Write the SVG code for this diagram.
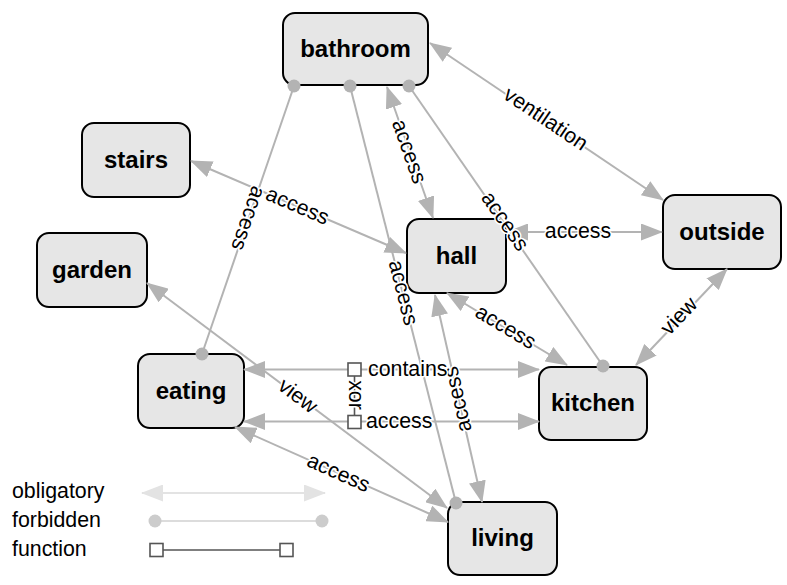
<svg xmlns="http://www.w3.org/2000/svg" width="787" height="585" viewBox="0 0 787 585">
  <style>
    .node rect { fill: #e6e6e6; stroke: #000; stroke-width: 2; }
    .node text { font-family: "Liberation Sans", Arial, sans-serif; font-weight: 700; font-size: 24px; text-anchor: middle; fill: #000; }
    .edge { stroke: #b3b3b3; stroke-width: 2; fill: none; }
    .arr { marker-start: url(#arrow); marker-end: url(#arrow); }
    .dot { fill: #b3b3b3; }
    .lbl { font-family: "Liberation Sans", Arial, sans-serif; font-size: 21.33px; fill: #000; text-anchor: middle; stroke: #fff; stroke-width: 3; stroke-linejoin: round; paint-order: stroke; }
    .lbl-left { text-anchor: start; }
    .fn { fill: #fff; stroke: #555; stroke-width: 1.6; }
    .fnline { stroke: #555; stroke-width: 1.6; }
    .legend { font-family: "Liberation Sans", Arial, sans-serif; font-size: 21.33px; fill: #000; }
  </style>
  <defs>
    <marker id="arrow" markerUnits="userSpaceOnUse" viewBox="0 0 22 17" markerWidth="22" markerHeight="17" refX="21" refY="8.5" orient="auto-start-reverse">
      <path d="M0,0 L22,8.5 L0,17 z" fill="#b3b3b3"/>
    </marker>
    <marker id="arrowLight" markerUnits="userSpaceOnUse" viewBox="0 0 22 17" markerWidth="22" markerHeight="17" refX="21" refY="8.5" orient="auto-start-reverse">
      <path d="M0,0 L22,8.5 L0,17 z" fill="#e3e3e3"/>
    </marker>
  </defs>
  <rect width="787" height="585" fill="#fff"/>

  <!-- rooms -->
  <g id="bathroom" class="node"><rect x="283" y="13" width="145" height="72" rx="12"/><text x="355.5" y="56.5">bathroom</text></g>
  <g id="stairs" class="node"><rect x="82" y="123" width="108" height="74" rx="12"/><text x="136" y="167.5">stairs</text></g>
  <g id="garden" class="node"><rect x="37" y="233" width="110" height="74" rx="12"/><text x="92" y="277.5">garden</text></g>
  <g id="eating" class="node"><rect x="138" y="354" width="106" height="74" rx="12"/><text x="191" y="398.5">eating</text></g>
  <g id="hall" class="node"><rect x="407" y="219" width="99" height="74" rx="12"/><text x="456.5" y="263.5">hall</text></g>
  <g id="outside" class="node"><rect x="663" y="195" width="118" height="74" rx="12"/><text x="722" y="239.5">outside</text></g>
  <g id="kitchen" class="node"><rect x="539" y="367" width="108" height="73" rx="12"/><text x="593" y="411">kitchen</text></g>
  <g id="living" class="node"><rect x="448" y="502" width="109" height="73" rx="12"/><text x="502.5" y="546">living</text></g>

  <!-- relations between rooms -->
  <g id="connectors">
    <line class="edge arr" x1="430" y1="43" x2="663" y2="200"/>
    <line class="edge arr" x1="387" y1="87" x2="433" y2="218"/>
    <line class="edge arr" x1="191" y1="161" x2="406" y2="253"/>
    <line class="edge" x1="294" y1="86" x2="202" y2="354"/>
    <line class="edge" x1="409" y1="86" x2="603" y2="366"/>
    <line class="edge" x1="350" y1="86" x2="456" y2="503"/>
    <line class="edge arr" x1="507" y1="232" x2="662" y2="232"/>
    <line class="edge arr" x1="447" y1="293" x2="567" y2="365"/>
    <line class="edge arr" x1="636" y1="365" x2="727" y2="269"/>
    <line class="edge arr" x1="244" y1="369.5" x2="539" y2="369.5"/>
    <line class="edge arr" x1="244" y1="421.5" x2="539" y2="421.5"/>
    <line class="edge arr" x1="147" y1="283" x2="447" y2="508"/>
    <line class="edge arr" x1="235" y1="427" x2="448" y2="522"/>
    <line class="edge arr" x1="482" y1="502" x2="435" y2="295"/>

    <circle class="dot" cx="294" cy="86" r="6.5"/>
    <circle class="dot" cx="202" cy="354" r="6.5"/>
    <circle class="dot" cx="409" cy="86" r="6.5"/>
    <circle class="dot" cx="603" cy="366" r="6.5"/>
    <circle class="dot" cx="350" cy="86" r="6.5"/>
    <circle class="dot" cx="456" cy="503" r="6.5"/>

    <!-- function pair joined by xor -->
    <line class="fnline" x1="354.5" y1="376" x2="354.5" y2="415.5"/>
    <rect class="fn" x="348" y="363" width="13" height="13"/>
    <rect class="fn" x="348" y="415.5" width="13" height="13"/>

    <text class="lbl" transform="translate(545,120) rotate(33.97)" y="5.5">ventilation</text>
    <text class="lbl" transform="translate(408,152) rotate(70.65)" y="5.5">access</text>
    <text class="lbl" transform="translate(297,207) rotate(23.2)" y="5.5">access</text>
    <text class="lbl" transform="translate(247,218) rotate(108.95)" y="5.5">access</text>
    <text class="lbl" transform="translate(504,222) rotate(55.3)" y="5.5">access</text>
    <text class="lbl" transform="translate(402,293) rotate(75.7)" y="5.5">access</text>
    <text class="lbl" transform="translate(578,232)" y="5.5">access</text>
    <text class="lbl" transform="translate(505,328) rotate(30.96)" y="5.5">access</text>
    <text class="lbl" transform="translate(680,317) rotate(-46.5)" y="5.5">view</text>
    <text class="lbl" transform="translate(297,397) rotate(36.87)" y="5.5">view</text>
    <text class="lbl" transform="translate(338,474) rotate(24.04)" y="5.5">access</text>
    <text class="lbl" transform="translate(459,399) rotate(-102.8)" y="5.5">access</text>
    <text class="lbl" transform="translate(354.5,395) rotate(90)" y="5.5">xor</text>
    <text class="lbl lbl-left" x="368" y="375.5">contains</text>
    <text class="lbl lbl-left" x="366" y="427.5">access</text>
  </g>

  <!-- key -->
  <g id="legend">
    <text class="legend" x="12" y="498">obligatory</text>
    <text class="legend" x="12" y="527">forbidden</text>
    <text class="legend" x="12" y="556">function</text>
    <line x1="142" y1="493" x2="325" y2="493" stroke="#e3e3e3" stroke-width="2" marker-start="url(#arrowLight)" marker-end="url(#arrowLight)"/>
    <line x1="155" y1="521" x2="322" y2="521" stroke="#dcdcdc" stroke-width="2"/>
    <circle cx="155" cy="521" r="6.5" fill="#cccccc"/>
    <circle cx="322" cy="521" r="6.5" fill="#cccccc"/>
    <line class="fnline" x1="163" y1="550" x2="280" y2="550"/>
    <rect class="fn" x="150" y="543.5" width="13" height="13"/>
    <rect class="fn" x="280" y="543.5" width="13" height="13"/>
  </g>
</svg>
